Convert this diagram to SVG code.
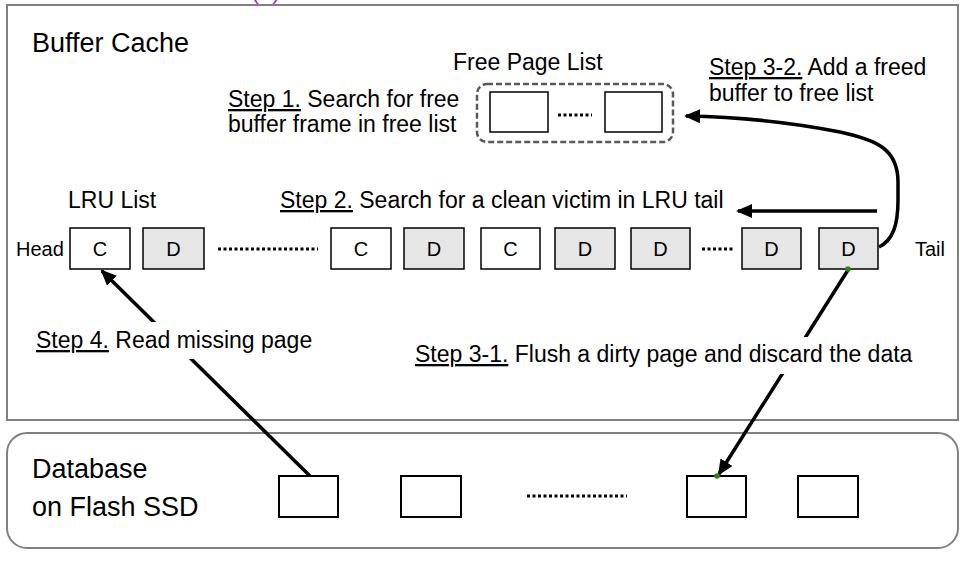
<svg xmlns="http://www.w3.org/2000/svg" width="967" height="562" viewBox="0 0 967 562">
<style>
text{font-family:"Liberation Sans",Arial,sans-serif;fill:#000}
.t23{font-size:23px}
.t27{font-size:27px}
.t20{font-size:20px}
.u{text-decoration:underline}
.frame{fill:#fff;stroke:#808080;stroke-width:2}
.box{fill:#fff;stroke:#000;stroke-width:1.5}
.dbox{fill:#e6e6e6;stroke:#000;stroke-width:1.5}
.sbox{fill:#fff;stroke:#000;stroke-width:2}
.lbl{font-size:20px;text-anchor:middle}
.dots{stroke:#000;stroke-width:3;stroke-dasharray:3 2.5;fill:none}
.conn{stroke:#000;stroke-width:3.5;fill:none}
.pt{fill:#2b8a0e}
.bg{fill:#fff}
</style>
<defs>
<marker id="ah" markerUnits="userSpaceOnUse" markerWidth="16" markerHeight="14" refX="14" refY="7" orient="auto">
<path d="M0,0 L16,7 L0,14 Z" fill="#000"/>
</marker>
</defs>
<rect width="967" height="562" fill="#fff"/>
<text x="251" y="-1" style="font-size:24px;fill:#9b30d9">(a)</text>

<g id="buffer-cache">
<rect class="frame" x="7" y="5" width="951" height="415"/>
<text class="t27" x="32" y="52">Buffer Cache</text>
</g>

<g id="database">
<rect class="frame" x="7" y="433" width="951" height="115" rx="20"/>
<text class="t27" x="32" y="478">Database</text>
<text class="t27" x="32" y="516">on Flash SSD</text>
<rect class="sbox" x="279" y="476" width="59" height="41"/>
<rect class="sbox" x="401" y="476" width="60" height="41"/>
<line class="dots" x1="527" y1="496" x2="627" y2="496"/>
<rect class="sbox" x="687" y="476" width="59" height="41"/>
<rect class="sbox" x="798" y="476" width="60" height="41"/>
</g>

<g id="free-page-list">
<text class="t23" x="453" y="70">Free Page List</text>
<rect x="477" y="84" width="196" height="58" rx="10" fill="#fff" stroke="#595959" stroke-width="2.5" stroke-dasharray="6 3"/>
<rect class="box" x="490" y="92" width="58" height="40"/>
<line class="dots" x1="558" y1="115" x2="592" y2="115"/>
<rect class="box" x="605" y="92" width="57" height="40"/>
</g>

<g id="lru-list">
<text class="t23" x="68" y="208">LRU List</text>
<text class="t20" x="16" y="256">Head</text>
<rect class="box" x="70" y="228" width="60" height="41"/><text class="lbl" x="100" y="256">C</text>
<rect class="dbox" x="143" y="228" width="61" height="41"/><text class="lbl" x="173.5" y="256">D</text>
<line class="dots" x1="218" y1="249" x2="318" y2="249"/>
<rect class="box" x="331" y="228" width="60" height="41"/><text class="lbl" x="361" y="256">C</text>
<rect class="dbox" x="404" y="228" width="60" height="41"/><text class="lbl" x="434" y="256">D</text>
<rect class="box" x="481" y="228" width="59" height="41"/><text class="lbl" x="510.5" y="256">C</text>
<rect class="dbox" x="555" y="228" width="60" height="41"/><text class="lbl" x="585" y="256">D</text>
<rect class="dbox" x="631" y="228" width="59" height="41"/><text class="lbl" x="660.5" y="256">D</text>
<line class="dots" x1="702" y1="249" x2="735" y2="249"/>
<rect class="dbox" x="742" y="228" width="59" height="41"/><text class="lbl" x="771.5" y="256">D</text>
<rect class="dbox" x="819" y="228" width="59" height="41"/><text class="lbl" x="848.5" y="256">D</text>
<text class="t20" x="915" y="256">Tail</text>
</g>

<g id="connectors">
<path class="conn" marker-end="url(#ah)" d="M310,476 L102,271"/>
<path class="conn" marker-end="url(#ah)" d="M848,270 L719,474"/>
<path class="conn" marker-end="url(#ah)" d="M877,211 L738,211"/>
<path class="conn" marker-end="url(#ah)" d="M879,247 C893,240 898,225 898,200 L898,182 C898,150 878,140 840,132 C790,122 740,117 686,116"/>
<circle class="pt" cx="848" cy="269" r="2.8"/>
<circle class="pt" cx="717" cy="476" r="2.8"/>
</g>

<g id="step1">
<text class="t23" x="228" y="107"><tspan class="u">Step 1.</tspan> Search for free</text>
<text class="t23" x="228" y="132">buffer frame in free list</text>
</g>

<g id="step2">
<text class="t23" x="280" y="208"><tspan class="u">Step 2.</tspan> Search for a clean victim in LRU tail</text>
</g>

<g id="step3-2">
<text class="t23" x="709" y="75"><tspan class="u">Step 3-2.</tspan> Add a freed</text>
<text class="t23" x="709" y="101">buffer to free list</text>
</g>

<g id="step4">
<rect class="bg" x="32" y="322" width="286" height="37"/>
<text class="t23" x="36" y="348"><tspan class="u">Step 4.</tspan> Read missing page</text>
</g>

<g id="step3-1">
<rect class="bg" x="411" y="337" width="506" height="37"/>
<text class="t23" x="415" y="362"><tspan class="u">Step 3-1.</tspan> Flush a dirty page and discard the data</text>
</g>
</svg>
